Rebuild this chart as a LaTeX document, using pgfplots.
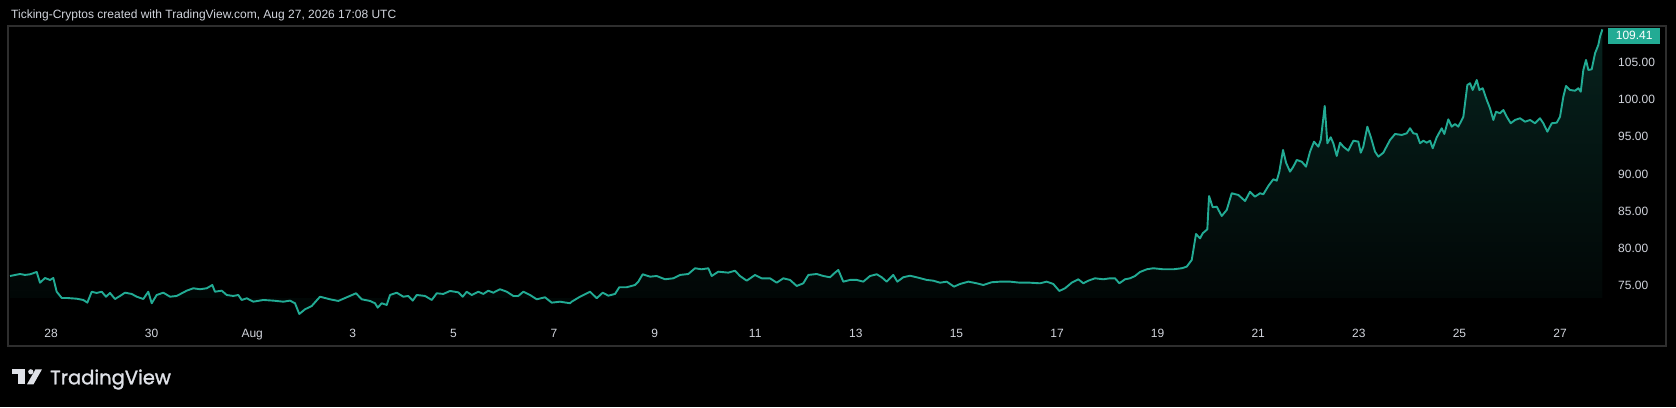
\documentclass[border=0pt]{standalone}
\usepackage{fontspec}
\setmainfont{Liberation Sans}
\newfontfamily\logofont{Poppins}[FakeBold=1.4]
\usepackage{pgfplots}
\usepackage{pgfplotstable}
\pgfplotsset{compat=1.18}
\definecolor{tvteal}{HTML}{22AB94}
\definecolor{tvtext}{HTML}{D1D4DC}
\definecolor{tvframe}{HTML}{2E2E2E}

% d = days since Jul 28 00:00, v = price
\pgfplotstableread{
d v
-0.815 76.30
-0.616 76.57
-0.517 76.44
-0.417 76.53
-0.284 76.84
-0.219 75.40
-0.119 76.03
-0.020 75.77
0.046 76.03
0.113 74.19
0.213 73.35
0.312 73.35
0.511 73.25
0.642 73.08
0.722 72.72
0.809 74.19
0.908 74.02
1.008 74.19
1.093 73.52
1.173 74.02
1.272 73.21
1.372 73.62
1.471 74.06
1.604 73.89
1.704 73.52
1.835 73.21
1.934 74.19
2.002 72.64
2.101 73.75
2.233 74.06
2.366 73.52
2.499 73.62
2.698 74.33
2.829 74.65
2.962 74.52
3.095 74.65
3.207 75.09
3.260 74.19
3.394 74.33
3.493 73.75
3.624 73.62
3.724 73.75
3.791 73.08
3.891 73.31
4.022 72.85
4.221 73.08
4.420 72.99
4.618 72.85
4.751 72.99
4.851 72.64
4.936 71.20
5.050 71.83
5.183 72.27
5.348 73.52
5.547 73.17
5.712 72.95
5.879 73.44
6.064 73.98
6.177 73.17
6.342 72.95
6.441 72.64
6.495 72.05
6.575 72.64
6.674 72.41
6.740 73.75
6.873 74.06
7.004 73.52
7.104 73.62
7.191 72.99
7.271 73.75
7.436 73.62
7.569 73.08
7.668 73.98
7.799 73.89
7.932 74.29
8.097 74.11
8.185 73.52
8.264 74.19
8.364 73.75
8.495 74.19
8.595 73.89
8.694 74.33
8.793 74.06
8.926 74.52
9.060 74.19
9.191 73.62
9.290 73.62
9.390 74.19
9.523 73.75
9.656 73.17
9.821 73.44
9.954 72.72
10.119 72.85
10.318 72.64
10.352 72.85
10.517 73.52
10.716 74.19
10.849 73.31
10.968 74.06
11.080 73.66
11.213 73.89
11.298 74.79
11.445 74.79
11.610 75.09
11.676 75.54
11.763 76.53
11.909 76.21
12.042 76.30
12.207 75.86
12.372 75.99
12.505 76.44
12.670 76.57
12.803 77.34
12.936 77.20
13.068 77.34
13.135 76.30
13.266 76.88
13.465 76.75
13.598 77.01
13.698 76.30
13.831 75.67
13.996 76.44
14.129 75.99
14.294 75.99
14.427 75.40
14.559 75.99
14.692 75.77
14.825 74.96
14.956 75.32
15.056 76.44
15.223 76.57
15.354 76.30
15.487 76.13
15.586 76.75
15.652 77.11
15.751 75.54
15.885 75.77
16.018 75.77
16.149 75.54
16.282 76.30
16.416 76.53
16.515 76.13
16.614 75.54
16.745 76.44
16.825 75.54
16.944 76.13
17.078 76.34
17.243 76.07
17.410 75.77
17.541 75.67
17.674 75.40
17.807 75.54
17.952 74.87
18.072 75.23
18.237 75.54
18.404 75.32
18.535 75.09
18.702 75.46
18.867 75.54
19.066 75.54
19.264 75.40
19.463 75.40
19.662 75.32
19.795 75.54
19.926 75.23
20.046 74.29
20.159 74.65
20.292 75.40
20.423 75.86
20.523 75.32
20.622 75.67
20.755 75.99
20.920 75.86
21.054 75.99
21.153 75.99
21.239 75.32
21.352 75.86
21.451 75.99
21.551 76.30
21.650 76.84
21.783 77.20
21.914 77.34
22.113 77.20
22.312 77.20
22.479 77.34
22.578 77.55
22.678 78.45
22.763 81.94
22.843 81.36
22.897 82.04
22.988 82.57
23.022 87.04
23.095 85.53
23.175 85.61
23.274 84.36
23.374 85.17
23.473 87.41
23.605 87.18
23.738 86.37
23.837 87.62
23.936 86.95
24.036 87.41
24.101 87.27
24.201 88.39
24.300 89.29
24.368 89.10
24.419 90.31
24.493 93.22
24.553 91.52
24.632 90.31
24.698 90.98
24.765 91.88
24.865 91.65
24.950 90.98
25.030 92.99
25.109 94.34
25.195 93.66
25.243 94.56
25.322 99.13
25.374 94.12
25.441 94.93
25.493 94.12
25.561 92.42
25.626 94.20
25.692 93.66
25.791 93.13
25.891 94.47
25.990 94.34
26.038 92.86
26.089 93.66
26.169 96.35
26.236 95.01
26.322 92.99
26.388 92.32
26.487 92.86
26.620 94.56
26.720 95.37
26.853 95.24
26.952 95.46
27.018 96.14
27.083 95.46
27.151 95.37
27.217 94.12
27.282 94.47
27.350 94.20
27.416 94.47
27.469 93.45
27.549 94.93
27.648 96.14
27.700 95.37
27.779 97.34
27.847 96.35
27.913 96.71
27.978 96.35
28.078 97.69
28.157 101.95
28.211 102.18
28.264 101.28
28.344 102.62
28.396 101.28
28.463 101.51
28.543 99.94
28.608 98.82
28.674 97.25
28.728 98.36
28.807 98.15
28.873 98.59
28.940 97.69
29.020 96.81
29.105 97.25
29.205 97.48
29.304 97.02
29.404 97.25
29.503 96.81
29.602 97.48
29.668 96.81
29.748 95.68
29.835 96.81
29.935 96.89
30.000 97.69
30.066 100.38
30.119 101.82
30.199 101.28
30.298 101.18
30.364 101.51
30.412 101.05
30.463 103.96
30.517 105.31
30.563 103.96
30.630 104.06
30.696 106.21
30.761 107.32
30.795 108.44
30.841 109.41
}\pricedata

\begin{document}
\begin{tikzpicture}[x=1pt,y=1pt]
\fill[black] (0,0) rectangle (1676,407);
\node[anchor=base west, text=tvtext, font=\fontsize{12}{12}\selectfont, inner sep=0pt]
  at (11,388) {Ticking-Cryptos created with TradingView.com, Aug 27, 2026 17:08 UTC};
% TradingView logo
\fill[tvtext!70!white] (11.7,37.7) rectangle (25,32.7);
\fill[tvtext!70!white] (18.3,37.7) rectangle (25,22.7);
\fill[tvtext!70!white] (30.8,35.2) circle (2.6);
\fill[tvtext!70!white] (27,22.7) -- (33.5,22.7) -- (42,37.7) -- (35.5,37.7) -- cycle;
\node[anchor=base west, inner sep=0pt, text=tvtext!70!white, font=\logofont\fontsize{19.5}{19.5}\selectfont]
  at (50,22.7) {TradingView};
\begin{axis}[
  at={(8pt,61pt)}, anchor=south west,
  scale only axis, width=1658pt, height=320pt,
  xmin=-0.855, xmax=32.107, ymin=66.90, ymax=109.87,
  axis line style={tvframe, line width=1.5pt},
  major tick length=0pt,
  ticklabel style={text=tvtext, font=\fontsize{12}{12}\selectfont, inner sep=0pt},
  xtick={0,2,...,30},
  xticklabels={28,30,Aug,3,5,7,9,11,13,15,17,19,21,23,25,27},
  xticklabel style={anchor=base, yshift=8.5pt},
  ytick={75,80,...,105},
  yticklabels={75.00,80.00,85.00,90.00,95.00,100.00,105.00},
  yticklabel pos=right,
  yticklabel style={anchor=west, xshift=-48pt},
]
\addplot[draw=none, top color=tvteal!20!black, bottom color=tvteal!3!black]
  table {\pricedata} -- (axis cs:30.841,73.35) -- (axis cs:-0.815,73.35) -- cycle;
\addplot[tvteal, line width=1.9pt, line join=round, mark=none] table {\pricedata};
\node[fill=tvteal, text=white, minimum width=52pt, minimum height=15.7pt, inner sep=0pt,
  anchor=west, font=\fontsize{12}{12}\selectfont] at (axis cs:30.954,108.56) {109.41};
\end{axis}
\end{tikzpicture}
\end{document}
